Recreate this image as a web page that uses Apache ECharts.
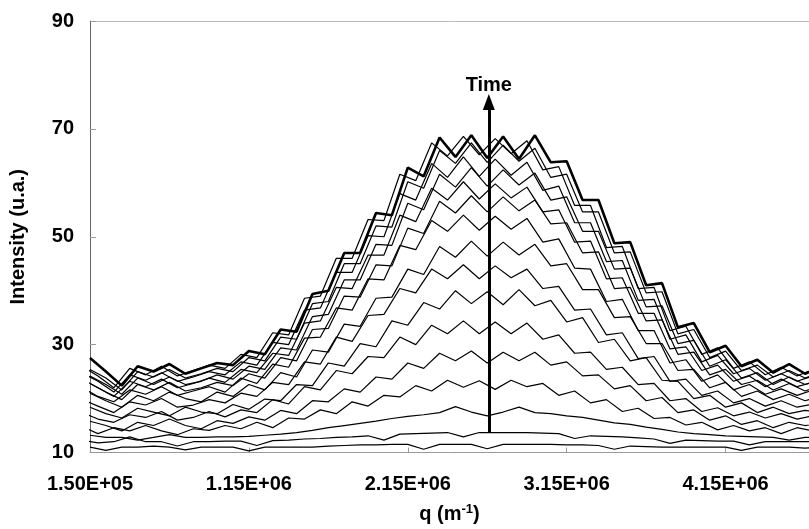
<!DOCTYPE html>
<html>
<head>
<meta charset="utf-8">
<script src="https://cdn.jsdelivr.net/npm/echarts@6/dist/echarts.min.js"></script>
<style>
html, body { margin: 0; padding: 0; background: #fff; }
#chart { width: 809px; height: 529px; }
</style>
</head>
<body>
<div id="chart"></div>
<script>
// q positions (m^-1): odd scans were read on gridA, even scans on gridB
var qGridA = [1.5e5, 2.5e5, 3.5e5, 4.5e5, 5.5e5, 6.5e5, 7.5e5, 8.5e5, 9.5e5, 1.05e6,
    1.15e6, 1.25e6, 1.35e6, 1.45e6, 1.55e6, 1.65e6, 1.75e6, 1.85e6, 1.95e6, 2.05e6,
    2.15e6, 2.25e6, 2.35e6, 2.45e6, 2.55e6, 2.65e6, 2.75e6, 2.85e6, 2.95e6, 3.05e6,
    3.15e6, 3.25e6, 3.35e6, 3.45e6, 3.55e6, 3.65e6, 3.75e6, 3.85e6, 3.95e6, 4.05e6,
    4.15e6, 4.25e6, 4.35e6, 4.45e6, 4.55e6, 4.65e6, 4.75e6]
var qGridB = [1.0e5, 2.0e5, 3.0e5, 4.0e5, 5.0e5, 6.0e5, 7.0e5, 8.0e5, 9.0e5, 1.0e6,
    1.1e6, 1.2e6, 1.3e6, 1.4e6, 1.5e6, 1.6e6, 1.7e6, 1.8e6, 1.9e6, 2.0e6,
    2.1e6, 2.2e6, 2.3e6, 2.4e6, 2.5e6, 2.6e6, 2.7e6, 2.8e6, 2.9e6, 3.0e6,
    3.1e6, 3.2e6, 3.3e6, 3.4e6, 3.5e6, 3.6e6, 3.7e6, 3.8e6, 3.9e6, 4.0e6,
    4.1e6, 4.2e6, 4.3e6, 4.4e6, 4.5e6, 4.6e6, 4.7e6]

var xTicks = [1.5e5, 1.15e6, 2.15e6, 3.15e6, 4.15e6]
var xTickLabels = ['1.50E+05', '1.15E+06', '2.15E+06', '3.15E+06', '4.15E+06']
var yTicks = [10, 30, 50, 70, 90]

// intensity of each scan, earliest first
var scan01 = [11,10.4,11,11,11.2,11,10.5,11,11,11, 10.3,11,11,11,11,11.2,11.3,11.4,11.4,11.5, 11.5,10.6,11.5,11.5,11.5,10.7,11.5,11.5,11.5,11.5, 11.4,11.4,11.3,10.6,11.2,11.1,11,11,11,11, 11,10.4,11,11,11,10.8,11]
var scan02 = [12.3,11.8,12,12.9,12,12,11.2,12,12,12.1, 12.1,11.3,12.2,12.3,12.5,12.6,12.8,12.9,13.1,12.3, 13.4,13.5,13.6,13.7,12.9,13.7,13.7,13.7,13.7,13.6, 13.5,12.6,13.1,13,12.9,12.7,12.5,11.7,12.3,12.2, 12.1,12.1,11.4,12,12,12,12]
var scan03 = [13.2,12.8,12.8,12.3,12.8,13.3,12.8,12.8,12.9,12.9, 13,13.2,13.4,13.7,14.1,14.6,15,15.4,15.8,16.3, 16.7,17,17.4,18.5,17.5,16.8,17.5,18.4,17.4,17.2, 16.8,16.5,16,15.5,15.2,14.7,14.3,13.8,13.5,13.3, 13.1,13,12.9,12.8,12.3,12.8,12.8]
var scan04 = [14.8,13.5,14.6,14,15,14,13.3,14.4,14.1,15, 14.4,15.6,14.6,16.4,16.2,17.9,17.2,19.4,18.6,20.6, 20.3,22.4,21.4,23.4,22.1,23.3,21.7,23.4,22.2,22.8, 20.6,21.4,19.2,19.8,17.6,18.2,16.3,16.5,15.1,15.6, 14.2,15,14,14.6,13.5,14.6,14]
var scan05 = [15.8,15,14,15.6,15,16.2,15,14.4,15.9,15.4, 16.6,16,17.8,17.2,19.6,19.4,21.8,21.2,24,23.6, 26.6,25.6,28.4,27,28.8,26.6,28.6,27,28.6,26.2, 26.8,24.2,24.4,21.8,22.4,19.6,20.2,17.4,17.9,16, 16.8,15.2,15.9,14.6,15.6,15,15.4]
var scan06 = [17.4,16.2,15.6,17,16.5,17.6,16,16.5,17.6,16.6, 17.9,17.4,19.8,19,22.2,21.6,25.2,24.6,27.8,27.6, 31.4,30,33.6,32,34.4,32,34.2,32,34,31, 31.8,28.4,28.6,25.4,25.8,22.6,22.8,19.6,20,17.6, 18.3,16.8,17.5,16.4,17.2,16.2,16.8]
var scan07 = [18.4,17.2,16.4,18.2,17.5,16.8,18.4,17.5,17.2,18.9, 18,19.9,19.6,22.6,22.4,26.6,26,30.2,29.6,34.4, 33.6,37.8,36.6,40,37.6,39.8,37.4,40.2,37.2,38.2, 34.2,35,30.4,31,27,27.6,23.4,23.2,20,20.6, 18.4,19.2,17.4,18.4,17.2,17.8,17.5]
var scan08 = [19.8,18.6,17.4,19.4,18.8,20,18.4,18.8,19.8,19.2, 21,20.4,23,22.6,26.8,26.4,31.4,30.6,35.4,35.6, 40.4,39.6,44,42.2,44.8,42.2,44.6,42.4,44,40.4, 40.8,36.4,36.6,31.8,32.2,27.4,27.8,23.2,23.6,20.6, 21.4,19.2,20,18.6,19.6,18.4,19]
var scan09 = [21,19.6,18.4,20.6,19.6,21.2,20,19.4,21.2,20.4, 22.6,21.6,24.8,24,29,28.6,33.8,33.4,38.6,38.8, 44,43,48.2,46.2,49.2,46.4,49,46.6,48.6,44.6, 45,40.2,40.2,35,35.2,30.2,30.2,25.2,25.4,22, 23,20.4,21.4,19.8,20.8,19.6,20.4]
var scan10 = [22,20.4,19.4,21.6,20.8,22.2,20.6,21.4,22.2,21.2, 23.8,22.8,26.4,25.8,31.2,31.4,36.8,36.4,42.2,42, 48.4,47.6,53,51,54,51.2,53.8,51.4,53.4,49, 49.6,44.2,44,38,38.4,32.6,32.6,26.6,27.2,23.2, 24.4,21.6,22.6,20.8,21.8,20.6,21.6]
var scan11 = [22.8,21.2,19.8,22.6,21.6,23,21.4,22,23,22.4, 24.6,23.8,27.6,27,32.8,33,39,38.8,44.8,44.6, 51.6,50.6,56.6,54.4,57.6,54.6,57.4,54.8,56.8,52.4, 52.6,47,47.2,40.4,40.6,34.4,34.6,28.2,28.6,24.4, 25.4,22.6,23.4,21.6,22.8,21.4,22.4]
var scan12 = [23.6,22,20.4,23.2,22.2,23.6,22,22.8,23.8,23, 25.4,24.8,28.4,28,34,34.4,40.6,40.4,46.6,46.6, 54,52.8,59,56.8,60.2,57,59.8,57.2,59.2,54.6, 55,49,49.2,42.2,42.4,35.8,35.8,29.2,29.6,25.2, 26.2,23.2,24.2,22.2,23.6,22.2,23]
var scan13 = [24.2,22.6,20.8,23.8,22.6,24,22.6,23.2,24.4,23.6, 26,25.4,29.4,29,35.2,35.6,42,42,48.6,48.4, 56.2,55,61.6,59.2,62.8,59.4,62.4,59.6,61.8,56.8, 57.4,51,51,44,44.2,37,37.2,30.2,30.8,26, 27.2,23.8,24.8,22.6,24,22.6,23.6]
var scan14 = [24.8,23.2,21.2,24.4,23.4,24.8,23.2,24,25,24.4, 26.8,26.2,30.4,30,36.4,36.8,43.4,43.4,50.2,50, 58,56.8,63.6,61,64.8,61.2,64.4,61.4,63.8,58.6, 59.4,52.6,52.6,45.4,45.6,38.2,38.4,31,31.8,26.8, 28,24.6,25.6,23.4,24.6,23.2,24.2]
var scan15 = [25.4,23.8,21.6,25,24,25.4,23.8,24.6,25.6,25, 27.6,27,31.4,31,37.6,38,45,45,52,51.8, 60.2,59,66,63.6,67.4,63.8,67,64,66.4,61, 61.6,54.6,54.6,47,47.2,39.6,39.8,32,32.8,27.6, 28.8,25.2,26.2,24,25.2,23.8,24.8]
var scan16 = [26,24.2,22,25.6,24.4,26,24.2,25.2,26.2,25.6, 28.2,27.6,32.2,31.8,38.6,39,46,46,53.2,53, 61.6,60.4,67.4,65,68.6,65.2,68.2,65.4,67.8,62.4, 63,55.8,55.8,48,48.2,40.4,40.6,32.6,33.4,28.2, 29.4,25.6,26.8,24.4,25.8,24.2,25.4]
var scan17 = [27.5,25,22.4,26,25,26.4,24.6,25.6,26.6,26.2, 28.8,28.2,32.8,32.4,39.4,40,47,47,54.4,54, 62.8,61.2,68.4,64.8,68.8,64.6,68.6,64.4,68.8,63.8, 64,56.8,56.8,48.8,49,41,41.4,33.2,34,28.6, 29.8,26,27.2,24.8,26.4,24.6,25.8]

var scans = [scan01, scan02, scan03, scan04, scan05, scan06, scan07, scan08, scan09,
    scan10, scan11, scan12, scan13, scan14, scan15, scan16, scan17]

// the "Time" arrow
var arrowQ = 2.66e6
var arrowFrom = 13.7
var arrowTo = 75

var font = 'Liberation Sans, Arial, sans-serif'
var chart = echarts.init(document.getElementById('chart'), null, {renderer: 'canvas'})

var series = scans.map(function (scan, k) {
    var grid = (k % 2 === 1) ? qGridB : qGridA
    return {
        type: 'line',
        data: grid.map(function (q, i) { return [q, scan[i]] }),
        showSymbol: false,
        silent: true,
        lineStyle: {color: '#000', width: k === scans.length - 1 ? 2.6 : 1.2}
    }
})

series.push({
    type: 'line',
    data: [[arrowQ, arrowFrom]],
    showSymbol: false,
    lineStyle: {width: 0},
    markLine: {
        silent: true,
        animation: false,
        symbol: ['none', 'triangle'],
        symbolSize: [12, 16],
        lineStyle: {color: '#000', width: 3, type: 'solid'},
        label: {show: true, position: 'end', formatter: 'Time', color: '#000',
            fontFamily: font, fontWeight: 'bold', fontSize: 20, distance: 6},
        data: [[{coord: [arrowQ, arrowFrom]}, {coord: [arrowQ, arrowTo]}]]
    }
})

var option = {
    animation: false,
    grid: {left: 85, right: 0, top: 21, bottom: 71},
    xAxis: [{
        type: 'value',
        min: 1.5e5,
        max: 4.675e6,
        interval: 1e6,
        name: 'q (m{sup|-1})',
        nameLocation: 'middle',
        nameGap: 50,
        nameTextStyle: {color: '#000', fontFamily: font, fontWeight: 'bold', fontSize: 20,
            rich: {sup: {fontSize: 13, fontWeight: 'bold', fontFamily: font, verticalAlign: 'top', padding: [0, 0, 10, 0]}}},
        axisLine: {lineStyle: {color: '#999', width: 1}},
        axisTick: {inside: true, length: 5, lineStyle: {color: '#999'}},
        splitLine: {show: false},
        axisLabel: {
            margin: 22, color: '#000', fontFamily: font, fontWeight: 'bold', fontSize: 20,
            showMaxLabel: false,
            formatter: function (v) {
                for (var i = 0; i < xTicks.length; i++) {
                    if (Math.abs(v - xTicks[i]) < 1) return xTickLabels[i]
                }
                return ''
            }
        }
    }, {
        // thin frame line along the top
        type: 'value', position: 'top', min: 1.5e5, max: 4.675e6,
        axisLine: {lineStyle: {color: '#bbb', width: 1}},
        axisTick: {show: false}, axisLabel: {show: false}, splitLine: {show: false}
    }],
    yAxis: {
        type: 'value',
        min: yTicks[0],
        max: yTicks[yTicks.length - 1],
        interval: 20,
        name: 'Intensity (u.a.)',
        nameLocation: 'middle',
        nameGap: 62,
        nameTextStyle: {color: '#000', fontFamily: font, fontWeight: 'bold', fontSize: 20},
        axisLine: {lineStyle: {color: '#666', width: 1}},
        axisTick: {inside: true, length: 6, lineStyle: {color: '#999'}},
        splitLine: {show: false},
        axisLabel: {margin: 16, color: '#000', fontFamily: font, fontWeight: 'bold', fontSize: 20}
    },
    series: series
}

chart.setOption(option)
</script>
</body>
</html>
